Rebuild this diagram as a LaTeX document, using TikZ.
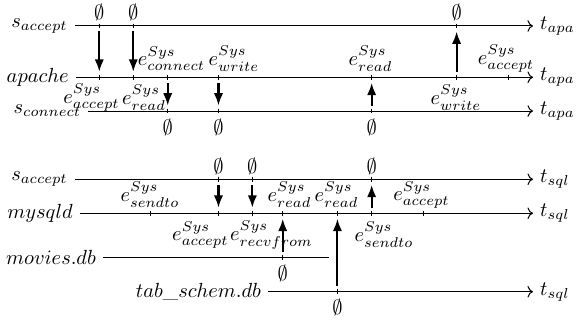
\documentclass[tikz,border=0pt]{standalone}
\usepackage{amsmath}
\usepackage{amsfonts}
\usetikzlibrary{arrows.meta}
\tikzset{
  axis/.style={->,line width=0.5pt},
  flow/.style={line width=1pt,-{Latex[length=6pt,width=4.5pt]},shorten <=2.7pt,shorten >=2.7pt},
  nil/.style={inner sep=0pt},
  evt/.style={inner sep=0pt}}

\begin{document}
\begin{tikzpicture}[scale=0.2]
\useasboundingbox (0,0) rectangle (50,-27.75);
\coordinate (sa1) at (6.44,-2.23);
\coordinate (sa1end) at (45.79,-2.23);
\coordinate (ap) at (6.53,-6.64);
\coordinate (apend) at (45.79,-6.64);
\coordinate (sc) at (7.59,-9.54);
\coordinate (scend) at (45.79,-9.54);
\draw [axis] (sa1) -- (sa1end);
\draw [axis] (ap) -- (apend);
\draw [axis] (sc) -- (scend);
\node [anchor=east] (lsa1) at (sa1) {$s_{accept}$};
\node [anchor=east] (lap) at (ap) {$apache$};
\node [anchor=east] (lsc) at (sc) {$s_{connect}$};
\node [anchor=west] (tsa1) at (sa1end) {$t_{apa}$};
\node [anchor=west] (tap) at (apend) {$t_{apa}$};
\node [anchor=west] (tsc) at (scend) {$t_{apa}$};
\foreach \x/\n in {8.53/1,11.45/2,39.23/3}{
  \coordinate (sa1t\n) at (\x,-2.23);
  \draw (\x,-2.23) +(0,0.2) -- +(0,-0.2);
}
\foreach \x/\n in {8.53/1,11.45/2,14.41/3,18.77/4,31.93/5,39.23/6,43.67/7}{
  \coordinate (apt\n) at (\x,-6.64);
  \draw (\x,-6.64) +(0,0.2) -- +(0,-0.2);
}
\foreach \x/\n in {14.41/1,18.77/2,31.93/3}{
  \coordinate (sct\n) at (\x,-9.54);
  \draw (\x,-9.54) +(0,0.2) -- +(0,-0.2);
}
\draw [flow] (sa1t1) -- (apt1);
\draw [flow] (sa1t2) -- (apt2);
\draw [flow] (apt6) -- (sa1t3);
\draw [flow] (apt3) -- (sct1);
\draw [flow] (apt4) -- (sct2);
\draw [flow] (sct3) -- (apt5);
\node [nil,above=2.3pt] (n1) at (sa1t1) {$\emptyset$};
\node [nil,above=2.3pt] (n2) at (sa1t2) {$\emptyset$};
\node [nil,above=2.3pt] (n3) at (sa1t3) {$\emptyset$};
\node [nil,below=3.6pt] (n4) at (sct1) {$\emptyset$};
\node [nil,below=3.6pt] (n5) at (sct2) {$\emptyset$};
\node [nil,below=3.6pt] (n6) at (sct3) {$\emptyset$};
\node [evt] (e1) at (14.73,-5.03) {$e^{Sys}_{connect}$};
\node [evt] (e2) at (20.10,-5.03) {$e^{Sys}_{write}$};
\node [evt] (e3) at (31.83,-5.03) {$e^{Sys}_{read}$};
\node [evt] (e4) at (43.47,-5.03) {$e^{Sys}_{accept}$};
\node [evt] (e5) at (7.86,-8.38) {$e^{Sys}_{accept}$};
\node [evt] (e6) at (12.37,-8.38) {$e^{Sys}_{read}$};
\node [evt] (e7) at (39.17,-8.38) {$e^{Sys}_{write}$};

\coordinate (sa2) at (6.44,-15.40);
\coordinate (sa2end) at (45.79,-15.40);
\coordinate (my) at (6.87,-18.32);
\coordinate (myend) at (45.79,-18.32);
\coordinate (mv) at (8.87,-22.14);
\coordinate (mvend) at (28.29,-22.14);
\coordinate (tb) at (23.05,-25.06);
\coordinate (tbend) at (45.79,-25.06);
\draw [axis] (sa2) -- (sa2end);
\draw [axis] (my) -- (myend);
\draw [line width=0.5pt] (mv) -- (mvend);
\draw [axis] (tb) -- (tbend);
\node [anchor=east] (lsa2) at (sa2) {$s_{accept}$};
\node [anchor=east] (lmy) at (my) {$mysqld$};
\node [anchor=east] (lmv) at (mv) {$movies.db$};
\node [anchor=east] (ltb) at (tb) {$tab\_schem.db$};
\node [anchor=west] (tsa2) at (sa2end) {$t_{sql}$};
\node [anchor=west] (tmy) at (myend) {$t_{sql}$};
\node [anchor=west] (ttb) at (tbend) {$t_{sql}$};
\foreach \x/\n in {18.77/1,21.68/2,31.93/3}{
  \coordinate (sa2t\n) at (\x,-15.40);
  \draw (\x,-15.40) +(0,0.2) -- +(0,-0.2);
}
\foreach \x/\n in {12.89/1,18.77/2,21.68/3,24.29/4,28.99/5,31.93/6,36.37/7}{
  \coordinate (myt\n) at (\x,-18.32);
  \draw (\x,-18.32) +(0,0.2) -- +(0,-0.2);
}
\coordinate (mvt1) at (24.29,-22.14);
\draw (mvt1) +(0,0.2) -- +(0,-0.2);
\coordinate (tbt1) at (28.99,-25.06);
\draw (tbt1) +(0,0.2) -- +(0,-0.2);
\draw [flow] (sa2t1) -- (myt2);
\draw [flow] (sa2t2) -- (myt3);
\draw [flow] (mvt1) -- (myt4);
\draw [flow] (tbt1) -- (myt5);
\draw [flow] (myt6) -- (sa2t3);
\node [nil,above=2.3pt] (n7) at (sa2t1) {$\emptyset$};
\node [nil,above=2.3pt] (n8) at (sa2t2) {$\emptyset$};
\node [nil,above=2.3pt] (n9) at (sa2t3) {$\emptyset$};
\node [nil,below=3.6pt] (n10) at (mvt1) {$\emptyset$};
\node [nil,below=3.6pt] (n11) at (tbt1) {$\emptyset$};
\node [evt] (e8) at (12.89,-16.75) {$e^{Sys}_{sendto}$};
\node [evt] (e9) at (24.87,-16.75) {$e^{Sys}_{read}$};
\node [evt] (e10) at (28.91,-16.75) {$e^{Sys}_{read}$};
\node [evt] (e11) at (36.21,-16.75) {$e^{Sys}_{accept}$};
\node [evt] (e12) at (17.22,-20.19) {$e^{Sys}_{accept}$};
\node [evt] (e13) at (23.32,-20.19) {$e^{Sys}_{recvfrom}$};
\node [evt] (e14) at (32.99,-20.19) {$e^{Sys}_{sendto}$};
\end{tikzpicture}
\end{document}
